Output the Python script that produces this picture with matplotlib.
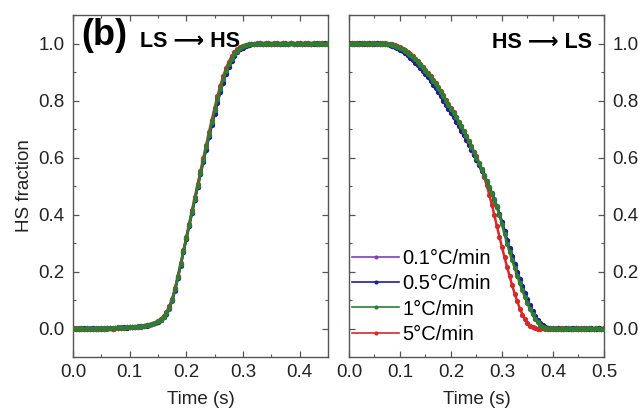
"""
plot.py
=======
Fracción HS frente al tiempo para las transiciones LS -> HS y HS -> LS
a cuatro velocidades de barrido (panel b).
"""

# =============================================================================
# IMPORTS
# =============================================================================
import matplotlib
matplotlib.use('Agg')
import matplotlib.pyplot as plt
from matplotlib.lines import Line2D
from matplotlib.ticker import MultipleLocator

# =============================================================================
# DATOS
# =============================================================================
VELOCIDADES = ['0.1°C/min', '0.5°C/min', '1°C/min', '5°C/min']
COLORES     = ['#7F3FBF', '#1F1F96', '#2E7D32', '#D42A2A']

# --- LS -> HS (panel izquierdo) ---
TIEMPO_IZQ = [
    0.000, 0.005, 0.010, 0.015, 0.020, 0.025, 0.030, 0.035, 0.040, 0.045,
    0.050, 0.055, 0.060, 0.065, 0.070, 0.075, 0.080, 0.085, 0.090, 0.095,
    0.100, 0.105, 0.110, 0.115, 0.120, 0.125, 0.130, 0.135, 0.140, 0.145,
    0.150, 0.155, 0.160, 0.165, 0.170, 0.175, 0.180, 0.185, 0.190, 0.195,
    0.200, 0.205, 0.210, 0.215, 0.220, 0.225, 0.230, 0.235, 0.240, 0.245,
    0.250, 0.255, 0.260, 0.265, 0.270, 0.275, 0.280, 0.285, 0.290, 0.295,
    0.300, 0.305, 0.310, 0.315, 0.320, 0.325, 0.330, 0.335, 0.340, 0.345,
    0.350, 0.355, 0.360, 0.365, 0.370, 0.375, 0.380, 0.385, 0.390, 0.395,
    0.400, 0.405, 0.410, 0.415, 0.420, 0.425, 0.430, 0.435, 0.440, 0.445,
    0.450,
]
HS_IZQ_01 = [
    0.002, -0.001, 0.001, 0.000, -0.002, 0.001, 0.002, 0.000, -0.001, 0.001,
    0.000, 0.002, 0.001, 0.002, 0.003, 0.001, 0.003, 0.004, 0.002, 0.004,
    0.005, 0.005, 0.006, 0.008, 0.007, 0.010, 0.011, 0.014, 0.016, 0.019,
    0.024, 0.030, 0.039, 0.051, 0.070, 0.097, 0.133, 0.176, 0.221, 0.267,
    0.313, 0.359, 0.405, 0.451, 0.497, 0.542, 0.587, 0.631, 0.675, 0.718,
    0.759, 0.798, 0.835, 0.868, 0.897, 0.922, 0.943, 0.960, 0.973, 0.982,
    0.989, 0.993, 0.996, 0.998, 0.999, 1.001, 0.999, 1.000, 1.002, 0.998,
    1.000, 1.001, 0.999, 1.000, 1.002, 1.000, 0.999, 1.001, 1.000, 0.998,
    1.001, 1.000, 1.002, 0.999, 1.000, 1.001, 0.999, 1.000, 1.001, 1.000,
    0.999,
]
HS_IZQ_05 = [
    0.001, 0.000, -0.002, 0.001, 0.002, 0.000, -0.001, 0.001, -0.002, 0.000,
    0.001, -0.001, 0.002, 0.001, 0.000, 0.002, 0.003, 0.001, 0.004, 0.003,
    0.004, 0.006, 0.005, 0.007, 0.008, 0.009, 0.010, 0.013, 0.015, 0.019,
    0.024, 0.030, 0.039, 0.052, 0.071, 0.099, 0.135, 0.178, 0.223, 0.269,
    0.315, 0.361, 0.407, 0.452, 0.497, 0.541, 0.585, 0.628, 0.671, 0.713,
    0.754, 0.793, 0.829, 0.862, 0.892, 0.917, 0.938, 0.955, 0.969, 0.979,
    0.986, 0.991, 0.995, 0.997, 0.999, 1.000, 1.002, 0.999, 1.000, 1.001,
    0.998, 1.000, 1.002, 1.000, 0.999, 1.001, 1.000, 1.002, 0.999, 1.000,
    1.001, 0.998, 1.000, 1.001, 1.000, 0.999, 1.002, 1.000, 0.999, 1.001,
    1.000,
]
HS_IZQ_1 = [
    0.001, -0.002, 0.000, 0.002, -0.001, 0.001, 0.000, -0.002, 0.001, 0.000,
    0.002, 0.000, 0.001, 0.003, 0.001, 0.002, 0.004, 0.002, 0.003, 0.005,
    0.004, 0.006, 0.005, 0.007, 0.008, 0.009, 0.011, 0.013, 0.016, 0.020,
    0.025, 0.031, 0.040, 0.053, 0.073, 0.101, 0.138, 0.181, 0.226, 0.272,
    0.318, 0.364, 0.410, 0.456, 0.501, 0.546, 0.591, 0.636, 0.680, 0.723,
    0.765, 0.804, 0.841, 0.874, 0.903, 0.927, 0.947, 0.963, 0.975, 0.984,
    0.990, 0.994, 0.997, 0.999, 1.000, 0.998, 1.001, 0.999, 1.002, 1.000,
    0.998, 1.001, 1.000, 0.999, 1.002, 1.000, 0.998, 1.001, 1.000, 1.002,
    0.999, 1.000, 1.001, 0.999, 1.000, 1.002, 1.000, 1.001, 0.999, 1.000,
    1.001,
]
HS_IZQ_5 = [
    0.000, 0.001, -0.001, 0.000, -0.002, -0.001, -0.003, -0.002, -0.003, -0.001,
    -0.002, 0.000, -0.001, 0.001, 0.000, 0.002, 0.001, 0.003, 0.002, 0.004,
    0.004, 0.005, 0.006, 0.006, 0.008, 0.009, 0.011, 0.013, 0.016, 0.021,
    0.027, 0.034, 0.044, 0.058, 0.078, 0.105, 0.141, 0.184, 0.229, 0.275,
    0.322, 0.368, 0.415, 0.461, 0.507, 0.553, 0.599, 0.644, 0.689, 0.733,
    0.775, 0.815, 0.852, 0.885, 0.913, 0.936, 0.955, 0.969, 0.980, 0.988,
    0.993, 0.996, 0.998, 0.999, 1.000, 0.999, 1.001, 1.000, 0.998, 1.002,
    1.000, 0.999, 1.001, 1.000, 1.002, 0.999, 1.000, 1.001, 0.998, 1.000,
    1.002, 1.000, 0.999, 1.001, 1.000, 1.002, 0.999, 1.000, 1.001, 0.999,
    1.000,
]

# --- HS -> LS (panel derecho) ---
TIEMPO_DER = [
    0.000, 0.005, 0.010, 0.015, 0.020, 0.025, 0.030, 0.035, 0.040, 0.045,
    0.050, 0.055, 0.060, 0.065, 0.070, 0.075, 0.080, 0.085, 0.090, 0.095,
    0.100, 0.105, 0.110, 0.115, 0.120, 0.125, 0.130, 0.135, 0.140, 0.145,
    0.150, 0.155, 0.160, 0.165, 0.170, 0.175, 0.180, 0.185, 0.190, 0.195,
    0.200, 0.205, 0.210, 0.215, 0.220, 0.225, 0.230, 0.235, 0.240, 0.245,
    0.250, 0.255, 0.260, 0.265, 0.270, 0.275, 0.280, 0.285, 0.290, 0.295,
    0.300, 0.305, 0.310, 0.315, 0.320, 0.325, 0.330, 0.335, 0.340, 0.345,
    0.350, 0.355, 0.360, 0.365, 0.370, 0.375, 0.380, 0.385, 0.390, 0.395,
    0.400, 0.405, 0.410, 0.415, 0.420, 0.425, 0.430, 0.435, 0.440, 0.445,
    0.450, 0.455, 0.460, 0.465, 0.470, 0.475, 0.480, 0.485, 0.490, 0.495,
    0.500,
]
HS_DER_01 = [
    0.999, 1.001, 1.000, 1.002, 0.998, 1.000, 1.001, 0.999, 1.002, 1.000,
    0.999, 1.001, 1.000, 0.998, 0.999, 0.998, 0.996, 0.993, 0.990, 0.985,
    0.980, 0.974, 0.968, 0.961, 0.953, 0.945, 0.937, 0.928, 0.918, 0.908,
    0.897, 0.886, 0.874, 0.862, 0.849, 0.836, 0.822, 0.807, 0.792, 0.778,
    0.763, 0.748, 0.733, 0.717, 0.701, 0.684, 0.667, 0.650, 0.632, 0.614,
    0.595, 0.576, 0.556, 0.536, 0.516, 0.496, 0.475, 0.453, 0.429, 0.402,
    0.372, 0.340, 0.307, 0.278, 0.250, 0.222, 0.195, 0.169, 0.144, 0.120,
    0.097, 0.076, 0.057, 0.041, 0.028, 0.017, 0.009, 0.004, 0.001, 0.000,
    0.002, -0.001, 0.001, 0.000, -0.002, 0.001, 0.000, 0.002, -0.001, 0.000,
    0.001, 0.000, -0.001, 0.002, 0.000, 0.001, -0.002, 0.000, 0.001, -0.001,
    0.000,
]
HS_DER_05 = [
    1.001, 0.999, 1.000, 0.998, 1.002, 1.001, 0.999, 1.000, 1.001, 0.998,
    1.000, 1.002, 0.999, 1.000, 0.998, 0.997, 0.995, 0.992, 0.988, 0.984,
    0.978, 0.972, 0.965, 0.958, 0.950, 0.942, 0.933, 0.924, 0.914, 0.903,
    0.892, 0.881, 0.869, 0.856, 0.843, 0.829, 0.815, 0.800, 0.785, 0.770,
    0.756, 0.741, 0.726, 0.710, 0.694, 0.678, 0.661, 0.644, 0.627, 0.609,
    0.591, 0.572, 0.553, 0.534, 0.514, 0.494, 0.473, 0.451, 0.428, 0.402,
    0.374, 0.343, 0.311, 0.282, 0.254, 0.227, 0.200, 0.174, 0.149, 0.125,
    0.102, 0.081, 0.062, 0.045, 0.031, 0.020, 0.011, 0.005, 0.002, 0.001,
    -0.001, 0.000, 0.002, -0.001, 0.000, 0.001, -0.002, 0.000, 0.002, 0.001,
    -0.001, 0.000, 0.001, -0.002, 0.000, 0.002, 0.000, -0.001, 0.001, 0.000,
    0.001,
]
HS_DER_1 = [
    1.000, 0.998, 1.002, 1.000, 0.999, 1.001, 1.003, 1.000, 0.998, 1.001,
    1.002, 1.000, 0.999, 1.001, 1.000, 0.999, 0.998, 0.996, 0.993, 0.989,
    0.985, 0.980, 0.974, 0.967, 0.960, 0.952, 0.944, 0.935, 0.926, 0.916,
    0.905, 0.894, 0.882, 0.870, 0.857, 0.844, 0.830, 0.815, 0.800, 0.786,
    0.771, 0.756, 0.741, 0.725, 0.709, 0.692, 0.675, 0.657, 0.638, 0.619,
    0.600, 0.580, 0.559, 0.538, 0.518, 0.497, 0.475, 0.452, 0.426, 0.397,
    0.366, 0.332, 0.298, 0.268, 0.240, 0.212, 0.185, 0.159, 0.134, 0.110,
    0.088, 0.068, 0.050, 0.035, 0.023, 0.013, 0.006, 0.002, 0.000, 0.001,
    -0.001, 0.002, 0.000, -0.002, 0.001, 0.000, 0.002, -0.001, 0.000, 0.001,
    -0.002, 0.000, 0.001, -0.001, 0.002, 0.000, -0.001, 0.001, 0.000, -0.002,
    0.000,
]
HS_DER_5 = [
    1.000, 1.002, 0.999, 1.001, 1.000, 0.998, 1.001, 1.002, 0.999, 1.000,
    1.001, 0.999, 1.002, 1.000, 1.001, 1.000, 0.999, 0.997, 0.995, 0.991,
    0.987, 0.982, 0.976, 0.970, 0.963, 0.955, 0.947, 0.938, 0.929, 0.919,
    0.908, 0.897, 0.885, 0.873, 0.860, 0.847, 0.833, 0.818, 0.803, 0.788,
    0.773, 0.758, 0.742, 0.726, 0.709, 0.692, 0.675, 0.657, 0.639, 0.621,
    0.604, 0.582, 0.558, 0.532, 0.503, 0.470, 0.435, 0.398, 0.360, 0.322,
    0.285, 0.250, 0.216, 0.183, 0.151, 0.122, 0.095, 0.070, 0.049, 0.032,
    0.019, 0.010, 0.004, 0.001, 0.000, -0.001, 0.001, 0.000, -0.002, 0.000,
    0.001, -0.001, 0.000, 0.002, 0.000, -0.001, 0.001, 0.000, -0.002, 0.001,
    0.000, 0.002, -0.001, 0.000, 0.001, -0.001, 0.000, 0.002, 0.000, -0.001,
    0.001,
]

SERIES_IZQ = [HS_IZQ_01, HS_IZQ_05, HS_IZQ_1, HS_IZQ_5]
SERIES_DER = [HS_DER_01, HS_DER_05, HS_DER_1, HS_DER_5]

# orden de dibujo: la verde (1°C/min) queda encima, como en la figura original
ORDEN = [0, 1, 3, 2]

FUENTE = ['Liberation Sans', 'DejaVu Sans']
plt.rcParams['font.family'] = FUENTE
TINTA = '#222222'


# =============================================================================
# FUNCIONES
# =============================================================================

def formato_eje(ax, xmax):
    ax.set_xlim(0, xmax)
    ax.set_ylim(-0.1, 1.1)
    ax.xaxis.set_major_locator(MultipleLocator(0.1))
    ax.xaxis.set_minor_locator(MultipleLocator(0.05))
    ax.yaxis.set_major_locator(MultipleLocator(0.2))
    ax.yaxis.set_minor_locator(MultipleLocator(0.1))
    ax.tick_params(which='both', direction='in', top=True, right=True,
                   color='#555555', labelsize=13.5, labelcolor=TINTA)
    ax.tick_params(which='major', length=4, width=0.9)
    ax.tick_params(which='minor', length=2.5, width=0.8)
    ax.tick_params(axis='x', which='major', pad=5)
    ax.tick_params(axis='y', which='major', pad=6)
    ax.xaxis.set_major_formatter(plt.FuncFormatter(lambda v, _: f'{v:.1f}'))
    ax.yaxis.set_major_formatter(plt.FuncFormatter(lambda v, _: f'{v:.1f}'))
    for sp in ax.spines.values():
        sp.set_color('#555555')
        sp.set_linewidth(1.0)
    ax.set_xlabel('Time (s)', fontsize=13.5, color=TINTA, labelpad=7)


def dibujar(ax, tiempo, series):
    for capa, i in enumerate(ORDEN):
        ax.plot(tiempo, series[i], color=COLORES[i], lw=1.8,
                marker='o', ms=3.8, mew=0, zorder=2 + capa)


def grafico_fraccion_hs():
    fig = plt.figure(figsize=(6.38, 4.09), dpi=100)
    ax_izq = fig.add_axes([0.1144, 0.1271, 0.3997, 0.8362])
    ax_der = fig.add_axes([0.5470, 0.1271, 0.3997, 0.8362])

    dibujar(ax_izq, TIEMPO_IZQ, SERIES_IZQ)
    dibujar(ax_der, TIEMPO_DER, SERIES_DER)

    formato_eje(ax_izq, 0.45)
    formato_eje(ax_der, 0.50)
    ax_izq.set_ylabel('HS fraction', fontsize=13.5, color=TINTA, labelpad=4)
    ax_der.tick_params(labelleft=False, labelright=True)

    ax_izq.text(0.033, 0.912, '(b)', transform=ax_izq.transAxes,
                fontsize=26, fontweight='bold', va='baseline', ha='left',
                zorder=10)
    ax_izq.text(0.262, 0.907, 'LS ⟶ HS', transform=ax_izq.transAxes,
                fontsize=15.5, fontweight='bold', va='baseline', ha='left',
                family=FUENTE, zorder=10)
    ax_der.text(0.953, 0.904, 'HS ⟶ LS', transform=ax_der.transAxes,
                fontsize=15.5, fontweight='bold', va='baseline', ha='right',
                family=FUENTE, zorder=10)

    manejadores = [
        Line2D([], [], color=COLORES[i], lw=1.2, marker='o', ms=3, mew=0)
        for i in range(len(VELOCIDADES))
    ]
    ax_der.legend(manejadores, VELOCIDADES, loc='lower left',
                  bbox_to_anchor=(-0.034, 0.004), frameon=False,
                  fontsize=14.5, handlelength=2.3, handletextpad=0.2,
                  labelspacing=0.3, borderaxespad=0.2)

    fig.savefig('out.png', dpi=100)
    plt.close(fig)


# =============================================================================
# PUNTO DE ENTRADA
# =============================================================================

def main():
    grafico_fraccion_hs()


if __name__ == '__main__':
    main()
